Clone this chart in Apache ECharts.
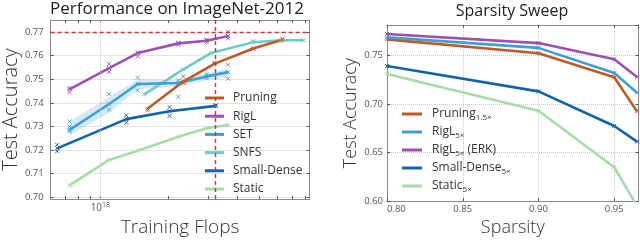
<!DOCTYPE html>
<html><head><meta charset="utf-8">
<script src="https://cdn.jsdelivr.net/npm/echarts@6/dist/echarts.min.js"></script>
<style>html,body{margin:0;padding:0;background:#fff}#c{width:640px;height:242px}</style>
</head><body><div id="c"></div>
<script>
// ---------- Left panel data (ImageNet-2012) ----------
const flopsMain = [0.731e18, 1.093e18, 1.461e18, 2.208e18, 2.942e18, 3.66e18]; // RigL, SET, Static
const riglAcc   = [0.7457, 0.7547, 0.7611, 0.7652, 0.7663, 0.7683];
const setAcc    = [0.7285, 0.7395, 0.7480, 0.7484, 0.7512, 0.7530];
const setLow    = [0.7262, 0.7358, 0.7458, 0.7468, 0.7497, 0.7507];
const setHigh   = [0.7322, 0.7425, 0.7499, 0.7497, 0.7524, 0.7548];
const staticAcc = [0.7050, 0.7158, 0.7197, 0.7256, 0.7292, 0.7306];
const flopsSnfs = [1.562e18, 2.32e18, 3.07e18, 4.72e18, 6.24e18, 7.86e18];
const snfsAcc   = [0.7436, 0.7542, 0.7611, 0.7657, 0.7665, 0.7665];
const flopsPrun = [1.614e18, 2.32e18, 3.18e18, 4.72e18, 6.35e18];
const prunAcc   = [0.7375, 0.7490, 0.7565, 0.7630, 0.7667];
const flopsSd   = [0.645e18, 1.302e18, 2.02e18, 3.23e18];
const sdAcc     = [0.7207, 0.7331, 0.7364, 0.7387];
const riglRuns = [[0.731e18,0.7463],[0.731e18,0.7446],[1.093e18,0.7565],[1.093e18,0.7531],[1.461e18,0.7613],[1.461e18,0.7597],[2.208e18,0.7655],[2.208e18,0.7646],[2.942e18,0.7668],[2.942e18,0.7656],[3.66e18,0.7701],[3.66e18,0.7673]];
const setRuns = [[0.731e18,0.7321],[0.731e18,0.7299],[0.731e18,0.7280],[1.093e18,0.7437],[1.093e18,0.7371],[1.461e18,0.7507],[1.461e18,0.7453],[2.208e18,0.7496],[2.208e18,0.7426],[2.942e18,0.7522],[2.942e18,0.7504],[3.66e18,0.7561],[3.66e18,0.7502]];
const sdRuns = [[0.645e18,0.7222],[0.645e18,0.7195],[1.302e18,0.7347],[1.302e18,0.7316],[2.02e18,0.7382],[2.02e18,0.7345],[3.23e18,0.7390]];
const prunRuns = [[1.614e18,0.7368],[2.32e18,0.7512],[2.32e18,0.7484],[3.18e18,0.7570],[4.72e18,0.7628],[6.35e18,0.7672]];
const snfsRuns = [[4.72e18,0.7662],[6.24e18,0.7660],[7.86e18,0.7665]];
const refAcc = 0.7678;      // red dashed horizontal
const refFlops = 3.22e18;   // red dashed vertical
const leftXTicks = [7e17, 8e17, 9e17, 1e18, 2e18, 3e18, 4e18, 5e18, 6e18, 7e18, 8e18];
const leftXLabels = [1e18];
const leftYTicks = [0.70, 0.71, 0.72, 0.73, 0.74, 0.75, 0.76, 0.77];
const leftNames = ['Pruning', 'RigL', 'SET', 'SNFS', 'Small-Dense', 'Static'];

// ---------- Right panel data (Sparsity sweep) ----------
const sparsity  = [0.80, 0.90, 0.95, 0.965];
const prun15    = [0.7662, 0.7520, 0.7272, 0.6922];
const rigl5     = [0.7683, 0.7575, 0.7316, 0.7114];
const riglErk   = [0.7717, 0.7624, 0.7457, 0.7275];
const sd5       = [0.7388, 0.7128, 0.6772, 0.6611];
const static5   = [0.7306, 0.6928, 0.6348, 0.5950];
const rightNames = ['Pruning|1.5×', 'RigL|5×', 'RigL|5×| (ERK)', 'Small-Dense|5×', 'Static|5×'];

const C = {pr:'#bf5a26', rigl:'#9b50b4', set:'#3ca0d7', snfs:'#6ecdc3', sd:'#1063ae', st:'#a6dca6'};
const leftColors = [C.pr, C.rigl, C.set, C.snfs, C.sd, C.st];
const rightColors = [C.pr, C.set, C.rigl, C.sd, C.st];
const FONT = 'Open Sans';
const X_SYM = 'path://M0,0L10,10M10,0L0,10';

function pairs(xs, ys){ return xs.map((x,i)=>[x, ys[i]]); }
function lineS(name, xs, ys, color, xi, yi, z){
  return {type:'line', name, xAxisIndex:xi, yAxisIndex:yi, data:pairs(xs,ys), z:z||3,
    lineStyle:{color, width:2.6}, itemStyle:{color:'none', borderColor:color, borderWidth:1},
    symbol:X_SYM, symbolSize:4, showSymbol:true, animation:false, color};
}
function runsS(data, color){
  return {type:'scatter', xAxisIndex:0, yAxisIndex:0, data, symbol:X_SYM, symbolSize:4,
    itemStyle:{color:'none', borderColor:color, borderWidth:1, opacity:0.9}, silent:true, animation:false, z:2};
}

const axLine = {show:true, lineStyle:{color:'#8a8a8a', width:1}};
const tickS = {show:true, inside:true, length:3, lineStyle:{color:'#555', width:1}};
const lblS = {color:'#555', fontSize:9.5, fontFamily:FONT};
const splitS = {show:true, lineStyle:{color:'#c8c8c8', type:'dotted', width:1}};

const option = {
  backgroundColor:'#fff',
  animation:false,
  title:[
    {text:'Performance on ImageNet-2012', left:177, top:1, textAlign:'center', padding:0,
     textStyle:{fontSize:17, fontWeight:'normal', color:'#222', fontFamily:FONT}},
    {text:'Sparsity Sweep', left:512, top:3, textAlign:'center', padding:0,
     textStyle:{fontSize:16, fontWeight:'normal', color:'#222', fontFamily:FONT}}
  ],
  grid:[
    {left:44, top:20, width:265.5, height:186.5, containLabel:false},
    {left:387, top:25, width:251.5, height:176.5, containLabel:false}
  ],
  legend:[
    {data:leftNames.map((n,i)=>({name:n, itemStyle:{color:leftColors[i], borderWidth:0}})),
     orient:'vertical', left:200, top:87, itemWidth:19, itemHeight:3, itemGap:6.2, icon:'rect',
     textStyle:{fontSize:12, color:'#333', fontFamily:FONT, padding:[0,0,0,4]}},
    {data:rightNames.map((n,i)=>({name:n, itemStyle:{color:rightColors[i], borderWidth:0}})),
     orient:'vertical', left:397, top:103, itemWidth:20, itemHeight:3, itemGap:4.5, icon:'rect',
     formatter:function(n){ const p=n.split('|'); return '{n|'+p[0]+'}{s|'+p[1]+'}'+(p[2]?'{n|'+p[2]+'}':''); },
     textStyle:{fontSize:12, color:'#333', fontFamily:FONT, padding:[0,0,0,5],
       rich:{n:{fontSize:12, color:'#333', fontFamily:FONT, lineHeight:15},
             s:{fontSize:8, color:'#333', fontFamily:FONT, verticalAlign:'bottom', lineHeight:11}}}}
  ],
  xAxis:[
    {gridIndex:0, type:'log', logBase:10, min:6.04e17, max:8.36e18, position:'bottom',
     name:'Training Flops', nameLocation:'middle', nameGap:10,
     nameTextStyle:{fontSize:19, color:'#333', fontFamily:FONT, fontWeight:300, verticalAlign:'top'},
     axisLine:axLine, axisTick:Object.assign({}, tickS, {customValues:leftXTicks}),
     axisLabel:{customValues:leftXLabels, margin:2, color:'#555', fontFamily:FONT,
       formatter:function(v){ return '{b|10}{s|18}'; },
       rich:{b:{fontSize:10, color:'#555', fontFamily:FONT, lineHeight:14}, s:{fontSize:7, color:'#555', fontFamily:FONT, verticalAlign:'top', lineHeight:8}}},
     splitLine:{show:false}},
    {gridIndex:0, type:'log', logBase:10, min:6.04e17, max:8.36e18, position:'top',
     axisLine:axLine, axisTick:Object.assign({}, tickS, {customValues:leftXTicks}),
     axisLabel:{show:false}, splitLine:{show:false}},
    {gridIndex:1, type:'value', min:0.80, max:0.966, interval:0.05, position:'bottom',
     name:'Sparsity', nameLocation:'middle', nameGap:11,
     nameTextStyle:{fontSize:18, color:'#333', fontFamily:FONT, fontWeight:300, verticalAlign:'top'},
     axisLine:axLine, axisTick:tickS,
     axisLabel:Object.assign({}, lblS, {margin:3, showMaxLabel:false, alignMinLabel:'left', formatter:v=>v.toFixed(2)}),
     splitLine:splitS},
    {gridIndex:1, type:'value', min:0.80, max:0.966, interval:0.05, position:'top',
     axisLine:axLine, axisTick:tickS, axisLabel:{show:false}, splitLine:{show:false}}
  ],
  yAxis:[
    {gridIndex:0, type:'value', min:0.6992, max:0.7751, position:'left',
     name:'Test Accuracy', nameLocation:'middle', nameGap:25,
     nameTextStyle:{fontSize:20, color:'#333', fontFamily:FONT, fontWeight:300},
     axisLine:axLine, axisTick:Object.assign({}, tickS, {customValues:leftYTicks}),
     axisLabel:Object.assign({}, lblS, {customValues:leftYTicks, margin:7, formatter:v=>v.toFixed(2)}),
     splitLine:splitS},
    {gridIndex:0, type:'value', min:0.6992, max:0.7751, position:'right',
     axisLine:axLine, axisTick:Object.assign({}, tickS, {customValues:leftYTicks}),
     axisLabel:{show:false}, splitLine:{show:false}},
    {gridIndex:1, type:'value', min:0.60, max:0.781, interval:0.05, position:'left',
     name:'Test Accuracy', nameLocation:'middle', nameGap:24,
     nameTextStyle:{fontSize:18, color:'#333', fontFamily:FONT, fontWeight:300},
     axisLine:axLine, axisTick:tickS,
     axisLabel:Object.assign({}, lblS, {margin:4, showMaxLabel:false, formatter:v=>v.toFixed(2)}),
     splitLine:splitS},
    {gridIndex:1, type:'value', min:0.60, max:0.781, interval:0.05, position:'right',
     axisLine:axLine, axisTick:tickS, axisLabel:{show:false}, splitLine:{show:false}}
  ],
  series:[
    // SET std band
    {type:'custom', xAxisIndex:0, yAxisIndex:0, data:[[flopsMain[0], setLow[0]]], silent:true, z:1, clip:true,
     renderItem:function(params, api){
       const up = flopsMain.map((x,i)=>api.coord([x, setHigh[i]]));
       const lo = flopsMain.map((x,i)=>api.coord([x, setLow[i]])).reverse();
       return {type:'polygon', shape:{points:up.concat(lo)}, style:{fill:'rgba(60,160,215,0.22)'}};
     }},
    // 10^18 vertical grid line + red reference lines
    {type:'line', xAxisIndex:0, yAxisIndex:0, data:[], silent:true,
     markLine:{silent:true, symbol:'none', label:{show:false}, animation:false,
       data:[
         {xAxis:1e18, lineStyle:{color:'#c8c8c8', type:'dotted', width:1}},
         {xAxis:refFlops, lineStyle:{color:'#d6303a', type:[4,3], width:1.4}},
         {yAxis:refAcc, lineStyle:{color:'#d6303a', type:[4,3], width:1.4}}
       ]}},
    runsS(riglRuns, C.rigl), runsS(setRuns, C.set), runsS(sdRuns, C.sd), runsS(prunRuns, C.pr), runsS(snfsRuns, C.snfs),
    lineS('Static', flopsMain, staticAcc, C.st, 0, 0),
    lineS('Small-Dense', flopsSd, sdAcc, C.sd, 0, 0),
    lineS('SNFS', flopsSnfs, snfsAcc, C.snfs, 0, 0),
    lineS('SET', flopsMain, setAcc, C.set, 0, 0),
    lineS('Pruning', flopsPrun, prunAcc, C.pr, 0, 0),
    lineS('RigL', flopsMain, riglAcc, C.rigl, 0, 0),
    // right panel
    lineS(rightNames[4], sparsity, static5, C.st, 2, 2),
    lineS(rightNames[3], sparsity, sd5, C.sd, 2, 2),
    lineS(rightNames[0], sparsity, prun15, C.pr, 2, 2),
    lineS(rightNames[1], sparsity, rigl5, C.set, 2, 2),
    lineS(rightNames[2], sparsity, riglErk, C.rigl, 2, 2)
  ]
};
const chart = echarts.init(document.getElementById('c'), null, {renderer:'canvas', width:640, height:242});
chart.setOption(option);
</script></body></html>
